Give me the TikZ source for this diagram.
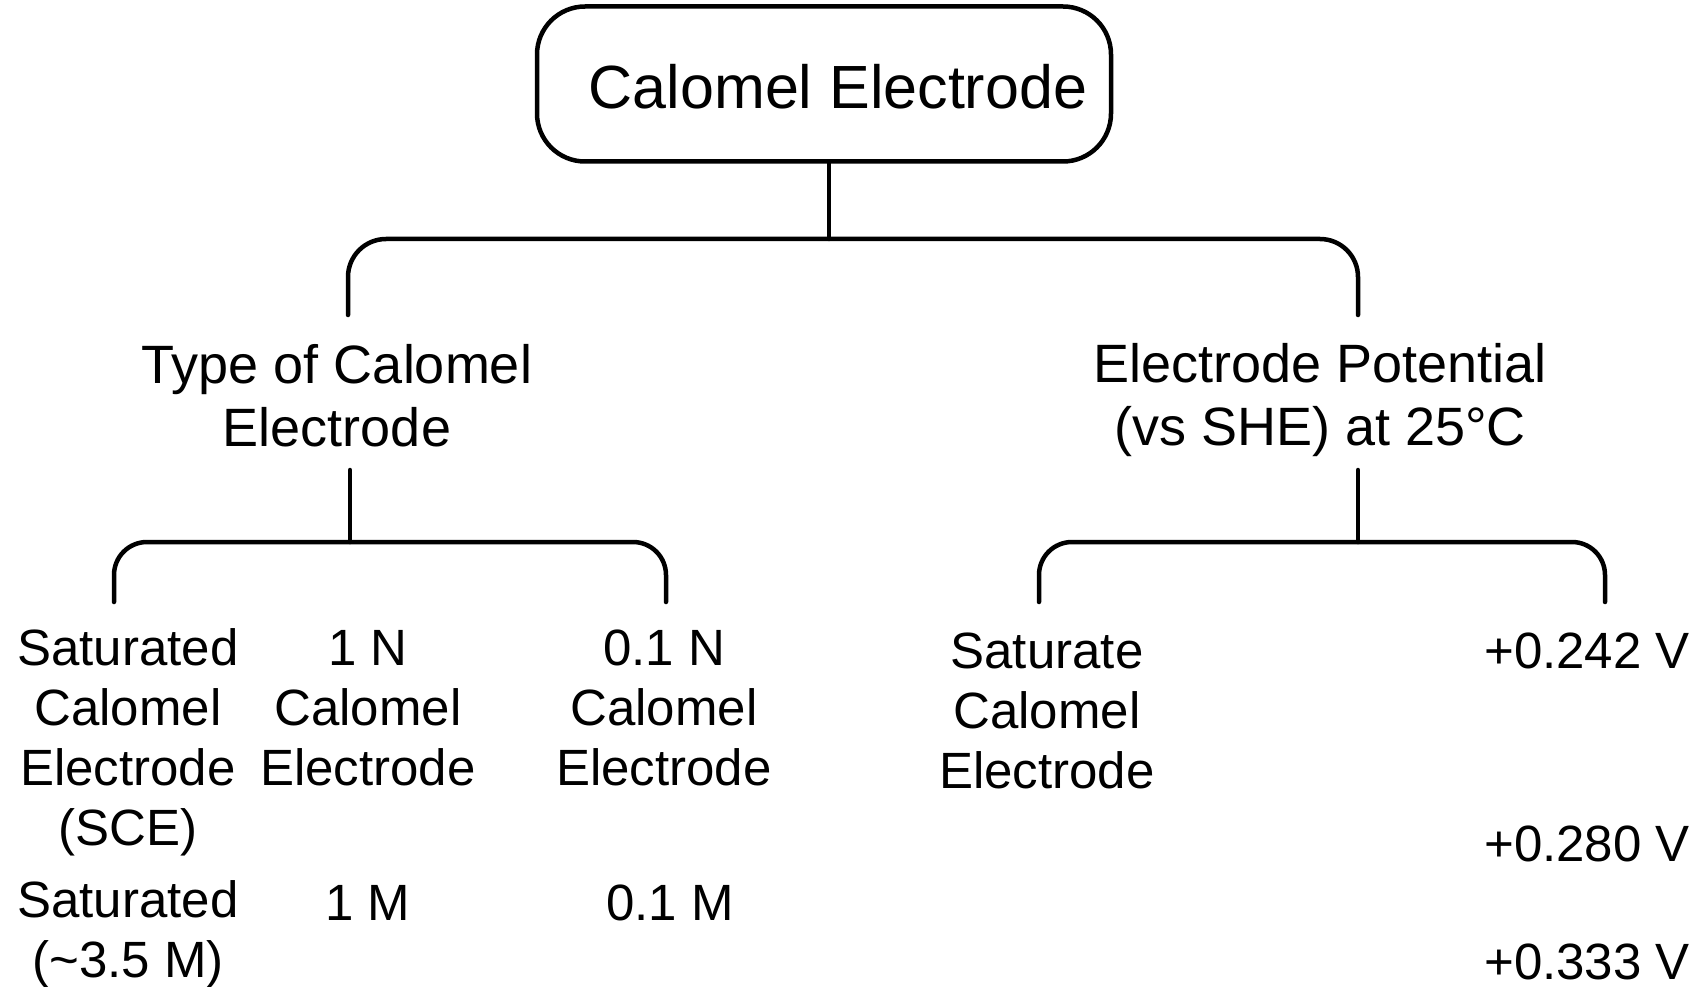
\documentclass[tikz,border=0pt]{standalone}
\usepackage{fontspec}
\setmainfont{Liberation Sans}
\begin{document}
\begin{tikzpicture}[x=1pt,y=-1pt,
  conn/.style={line width=4.5pt, line cap=round, line join=round},
  topbox/.style={draw, line width=4.5pt, rounded corners=48pt, minimum width=574pt, minimum height=155pt, inner sep=0pt},
  toptxt/.style={font=\fontsize{61}{70}\selectfont, inner sep=0pt},
  midtxt/.style={font=\fontsize{54}{63}\selectfont, align=center, inner sep=0pt},
  lowtxt/.style={font=\fontsize{51}{60}\selectfont, align=center, inner sep=0pt},
  valtxt/.style={font=\fontsize{51}{60}\selectfont, anchor=east, inner sep=0pt}]
\useasboundingbox (0,0) rectangle (1706,987);
% top
\node[topbox] (top) at (824,84) {};
\node[toptxt] (toptext) at (838,87) {Calomel Electrode};
% second level
\node[midtxt] (type) at (337,396) {Type of Calomel\\Electrode};
\node[midtxt] (pot) at (1320,400) {Electrode Potential\\(vs SHE) at 25°C};
% bottom left
\node[lowtxt] (c1) at (128,742) {Saturated\\Calomel\\Electrode\\(SCE)};
\node[lowtxt] (c2) at (368,708) {1 N\\Calomel\\Electrode};
\node[lowtxt] (c3) at (664,708) {0.1 N\\Calomel\\Electrode};
\node[lowtxt] (m1) at (128,934) {Saturated\\(\textasciitilde 3.5 M)};
\node[lowtxt] (m2) at (368,903) {1 M};
\node[lowtxt] (m3) at (670,903) {0.1 M};
% bottom right
\node[lowtxt] (r1) at (1047,711) {Saturate\\Calomel\\Electrode};
\node[valtxt] (v1) at (1690,651) {+0.242 V};
\node[valtxt] (v2) at (1690,844) {+0.280 V};
\node[valtxt] (v3) at (1690,962) {+0.333 V};
% connector coordinates
\coordinate (j1) at (829,239);
\coordinate (l1) at (348,315);
\coordinate (r1e) at (1358,315);
\coordinate (t1) at (350,470);
\coordinate (j2) at (350,542);
\coordinate (l2) at (114,602);
\coordinate (r2) at (666,602);
\coordinate (t2) at (1358,470);
\coordinate (j3) at (1358,542);
\coordinate (l3) at (1039,602);
\coordinate (r3) at (1605,602);
% connectors
\draw[conn] (top.south -| j1) -- (j1);
\draw[conn, rounded corners=38pt] (l1) |- (j1) -| (r1e);
\draw[conn] (t1) -- (j2);
\draw[conn, rounded corners=33pt] (l2) |- (j2) -| (r2);
\draw[conn] (t2) -- (j3);
\draw[conn, rounded corners=33pt] (l3) |- (j3) -| (r3);
\end{tikzpicture}
\end{document}
